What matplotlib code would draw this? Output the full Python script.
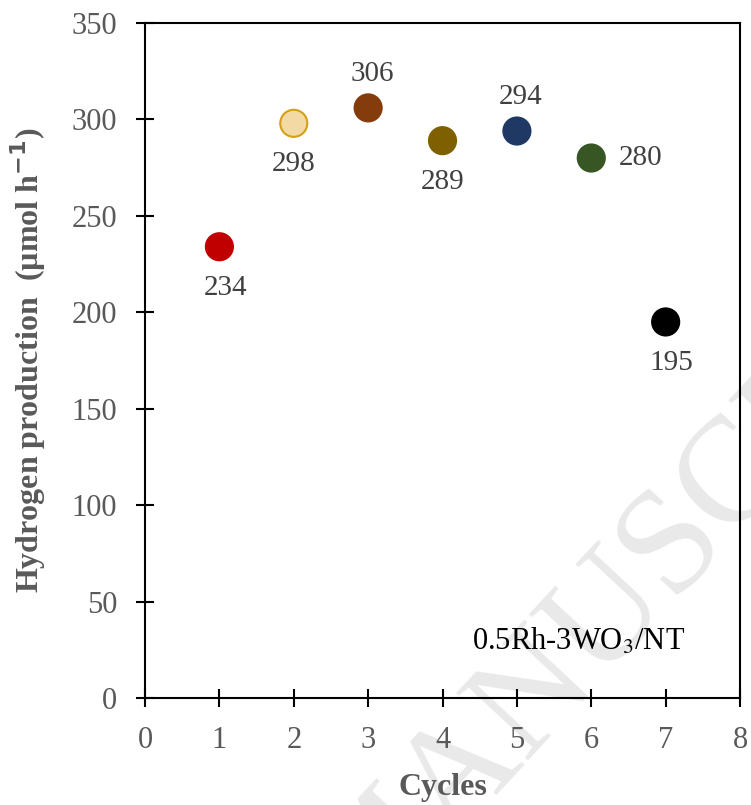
import numpy as np
import matplotlib.pyplot as plt

# Datos del ensayo de ciclos
ciclos = [1, 2, 3, 4, 5, 6, 7]
produccion = [234, 298, 306, 289, 294, 280, 195]
etiquetas = ["234", "298", "306", "289", "294", "280", "195"]
colores = ["#C00000", "#F3D9A4", "#843C0C", "#7F6000", "#1F3864", "#375623", "#000000"]
bordes = ["#C00000", "#D4A017", "#843C0C", "#7F6000", "#1F3864", "#375623", "#000000"]
posiciones = ["abajo_d", "abajo", "arriba", "abajo", "arriba", "derecha", "abajo_d"]

plt.rcParams['font.family'] = ['Liberation Serif', 'DejaVu Serif']
gris = "#595959"

fig = plt.figure(figsize=(7.51, 8.05), dpi=100)
ax = fig.add_axes([0.1931, 0.1329, 0.7923, 0.8385])
ax.set_facecolor("none")

# Marca de agua
fig.text(0.883, 0.307, "MANUSCRIPT", fontsize=108, color="#E9E9E9",
         rotation=47, rotation_mode="anchor", ha="center", va="center", zorder=-10)

ax.scatter(ciclos, produccion, s=380, c=colores, edgecolors=bordes, linewidths=1.5, zorder=3)

desplaz = {"abajo": (0, -41, "center", "center"),
           "abajo_d": (6, -41, "center", "center"),
           "arriba": (4, 34, "center", "center"),
           "derecha": (27, 0, "left", "center")}
for x, y, t, p in zip(ciclos, produccion, etiquetas, posiciones):
    dx, dy, ha, va = desplaz[p]
    ax.annotate(t, (x, y), xytext=(dx, dy), textcoords="offset pixels",
                ha=ha, va=va, fontsize=21, color="#404040")

ax.text(0.9076, 0.071, "0.5Rh-3WO$_3$/NT", transform=ax.transAxes, fontsize=22,
        ha="right", va="baseline", color="black", math_fontfamily="stix")

ax.set_xlim(0, 8)
ax.set_ylim(0, 350)
ax.set_xticks(range(0, 9))
ax.set_yticks(range(0, 351, 50))
ax.tick_params(direction="inout", length=13, width=1.5, labelsize=22, labelcolor=gris, pad=13.5)
for s in ax.spines.values():
    s.set_linewidth(1.5)

ax.set_xlabel("Cycles", fontsize=23, fontweight="bold", color=gris, labelpad=13)
ax.set_ylabel("Hydrogen production  (µmol h$^{\\mathbf{-1}}$)", fontsize=23,
              fontweight="bold", color=gris, labelpad=17)

fig.savefig("out.png", dpi=100)
